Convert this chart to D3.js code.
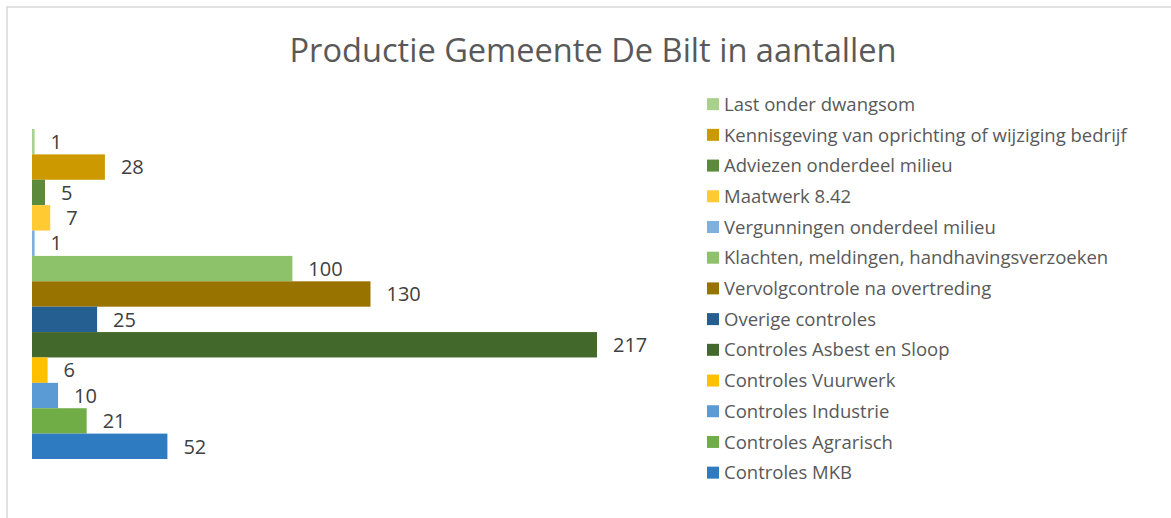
<!DOCTYPE html>
<html>
<head>
<meta charset="utf-8">
<script src="https://cdn.jsdelivr.net/npm/d3@7"></script>
<style>
  body { margin: 0; background: #fff; }
  svg { display: block; font-family: "Open Sans", sans-serif; }
</style>
</head>
<body>
<div id="graph"></div>
<script>
// top to bottom, as in the chart
let categories = [
    'Last onder dwangsom',
    'Kennisgeving van oprichting of wijziging bedrijf',
    'Adviezen onderdeel milieu',
    'Maatwerk 8.42',
    'Vergunningen onderdeel milieu',
    'Klachten, meldingen, handhavingsverzoeken',
    'Vervolgcontrole na overtreding',
    'Overige controles',
    'Controles Asbest en Sloop',
    'Controles Vuurwerk',
    'Controles Industrie',
    'Controles Agrarisch',
    'Controles MKB'
];
let values = [1, 28, 5, 7, 1, 100, 130, 25, 217, 6, 10, 21, 52];

let colors = ['#a9d18e', '#cc9a00', '#5a8a3a', '#ffca32', '#7db0df', '#8dc26b',
              '#997300', '#255e91', '#43682b', '#ffc000', '#5b9bd5', '#70ad47', '#2f7bc1'];

let width = 1171;
let height = 518;

let x = d3.scaleLinear().domain([0, 217]).range([32, 597]);
let y = d3.scaleBand().domain(categories).range([129, 459]).padding(0);
let color = d3.scaleOrdinal().domain(categories).range(colors);

let svg = d3.select('#graph')
    .append('svg')
        .attr('width', width)
        .attr('height', height);

// chart border
svg.append('rect')
    .attr('x', 7).attr('y', 7)
    .attr('width', width + 10).attr('height', height + 10)
    .attr('fill', 'none')
    .attr('stroke', '#d9d9d9')
    .attr('stroke-width', 1.5);

svg.append('text')
    .attr('x', 593)
    .attr('y', 62)
    .attr('text-anchor', 'middle')
    .attr('fill', '#595959')
    .style('font-size', '32.6px')
    .text('Productie Gemeente De Bilt in aantallen');

let data = categories.map((c, i) => ({name: c, value: values[i]}));

svg.selectAll('.bar')
        .data(data)
    .enter().append('rect')
        .attr('class', 'bar')
        .attr('x', x(0))
        .attr('y', (d) => y(d.name))
        .attr('width', (d) => x(d.value) - x(0))
        .attr('height', y.bandwidth())
        .attr('fill', (d) => color(d.name));

svg.selectAll('.label')
        .data(data)
    .enter().append('text')
        .attr('class', 'label')
        .attr('x', (d) => x(d.value) + 16)
        .attr('y', (d) => y(d.name) + y.bandwidth() / 2)
        .attr('dy', '0.36em')
        .attr('fill', '#404040')
        .style('font-size', '20px')
        .text((d) => d.value);

// legend
let legend = svg.append('g');
let ly = d3.scaleBand().domain(categories).range([88.8, 488]);

let item = legend.selectAll('.item')
        .data(categories)
    .enter().append('g')
        .attr('class', 'item')
        .attr('transform', (d) => 'translate(0,' + (ly(d) + ly.bandwidth() / 2) + ')');

item.append('rect')
    .attr('x', 707)
    .attr('y', -6)
    .attr('width', 12)
    .attr('height', 12)
    .attr('fill', (d) => color(d));

item.append('text')
    .attr('x', 724)
    .attr('dy', '0.36em')
    .attr('fill', '#595959')
    .style('font-size', '18.5px')
    .text((d) => d);
</script>
</body>
</html>
